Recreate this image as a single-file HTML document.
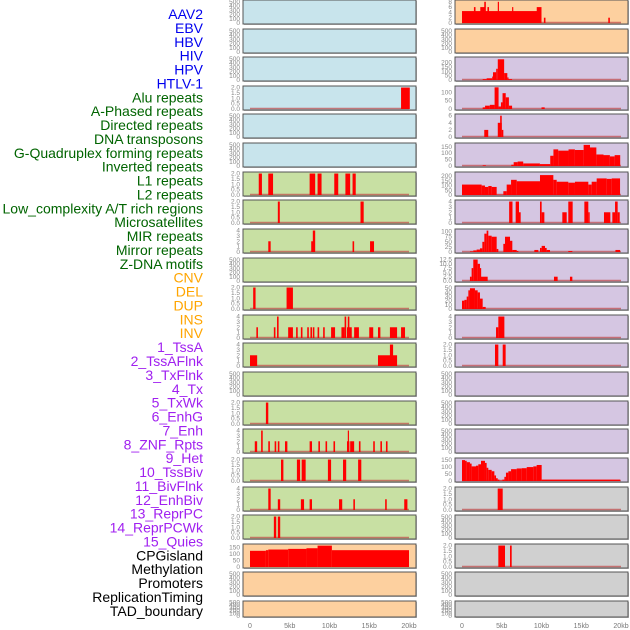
<!DOCTYPE html>
<html><head><meta charset="utf-8"><style>
body{margin:0;background:#fff;width:630px;height:630px;overflow:hidden}
svg{display:block;font-family:"Liberation Sans",sans-serif}
</style></head><body>
<svg id="chart" width="630" height="630"></svg>
<script>
const labels=["AAV2","EBV","HBV","HIV","HPV","HTLV-1","Alu repeats","A-Phased repeats","Directed repeats","DNA transposons","G-Quadruplex forming repeats","Inverted repeats","L1 repeats","L2 repeats","Low_complexity A/T rich regions","Microsatellites","MIR repeats","Mirror repeats","Z-DNA motifs","CNV","DEL","DUP","INS","INV","1_TssA","2_TssAFlnk","3_TxFlnk","4_Tx","5_TxWk","6_EnhG","7_Enh","8_ZNF_Rpts","9_Het","10_TssBiv","11_BivFlnk","12_EnhBiv","13_ReprPC","14_ReprPCWk","15_Quies","CPGisland","Methylation","Promoters","ReplicationTiming","TAD_boundary"];
const labelGroups=[6,13,5,15,5];
const groupColors=["#0000ee","#006400","#ffa500","#a020f0","#000000"];
const bgLeft=["b","b","b","b","b","b","g","g","g","g","g","g","g","g","g","g","g","g","g","o","o","o"];
const bgRight=["o","o","p","p","p","p","p","p","p","p","p","p","p","p","p","p","p","x","x","x","x","x"];
const bgColors={b:"#c8e4ec",g:"#c8e0a3",o:"#fdd09f",p:"#d5c6e2",x:"#d0d0d0"};
const xTicks=[0,5,10,15,20];
const xTickLabels=["0","5kb","10kb","15kb","20kb"];
const T2=[0,0.5,1,1.5,2],T2L=["0.0","0.5","1.0","1.5","2.0"];
const T4=[0,1,2,3,4];
const T500=[0,100,200,300,400,500];
const L3=[[19.0,20.1,2]];
const L6=[[1.1,1.5,2],[2.3,2.9,2],[7.5,8.2,2],[8.5,9.0,2],[10.6,11.1,2],[12.0,12.6,2],[12.9,13.3,2]];
const L7=[[3.5,3.75,2],[13.9,14.3,2]];
const L8=[[2.3,2.6,2],[7.7,8.1,2],[7.9,8.2,4],[12.9,13.1,2],[15.1,15.6,2]];
const L10=[[0.4,0.7,2],[4.6,5.4,2]];
const L11=[[0.8,1.0,2],[3.0,3.2,2],[3.4,3.6,4],[4.8,5.4,2],[5.8,6.0,2],[6.4,6.6,2],[7.2,7.4,2],[7.6,7.8,2],[7.9,8.1,2],[8.5,8.7,2],[9.2,9.4,2],[10.2,10.7,2],[11.5,11.9,2],[11.9,12.1,4],[12.2,12.8,2],[12.3,12.5,4],[13.1,13.7,2],[15.0,15.5,2],[16.1,16.4,2],[17.6,18.5,2],[19.0,19.5,2]];
const L12=[[0,0.9,2],[16.1,18.5,2],[17.6,18.0,4]];
const L14=[[2.0,2.3,2]];
const L15=[[0.6,0.9,2],[1.4,1.6,4],[2.3,2.5,2],[3.1,3.3,2],[3.5,3.7,2],[4.4,4.7,2],[7.5,7.8,2],[8.6,8.8,2],[9.5,9.7,2],[10.5,10.7,2],[12.2,12.5,2],[12.3,12.45,4],[12.6,13.1,2],[13.7,13.9,2],[15.5,15.7,2],[16.4,16.6,2],[17.1,17.3,2]];
const L16=[[3.9,4.2,2],[5.9,6.3,2],[6.5,7.0,2],[9.8,10.2,2],[11.7,12.1,2],[13.6,14.0,2]];
const L17=[[2.3,2.6,4],[3.5,3.8,2],[6.4,6.8,2],[7.5,7.8,2],[11.2,11.6,2],[13.0,13.2,2],[17.0,17.2,2],[19.4,19.8,2]];
const L18=[[3.0,3.3,2],[3.5,3.8,2]];
const L19=[[0,2,125],[2,2.3,130],[2.3,4.8,135],[4.8,7.1,140],[7.1,8.5,145],[8.5,10.3,165],[10.3,20,130]];
const R0=[[0,10,4.5],[1.5,1.7,6],[2.3,2.9,6],[2.8,3.0,8],[3.2,3.4,6],[4.5,4.6,8],[6.3,6.4,6],[9.4,10.0,6],[10.3,10.5,2],[18.4,18.6,2]];
const R2=[[2.6,3.1,10],[3.1,3.8,20],[3.8,3.9,40],[3.9,4.3,90],[4.3,4.5,130],[4.5,5.3,240],[5.3,5.7,80],[5.7,5.8,30],[5.8,6.3,10]];
const R3=[[2.6,2.9,10],[2.9,3.5,20],[3.5,4.1,25],[4.1,4.6,130],[4.6,4.9,15],[4.9,5.1,40],[5.1,5.5,95],[5.5,5.9,70],[5.9,6.3,20],[10.0,10.4,10]];
const R4=[[2.8,3.3,2],[4.5,5.0,4],[4.8,5.0,6],[5.0,5.2,2]];
const R5=[[2.6,3.0,5],[6.2,6.5,10],[6.5,7.0,30],[7.0,7.7,35],[7.7,9.8,20],[9.8,11.1,15],[11.1,11.5,80],[11.5,12.1,130],[12.1,13.4,120],[13.4,14.2,130],[14.2,15.3,125],[15.3,16.1,165],[16.1,16.9,145],[16.9,17.8,90],[17.8,18.6,85],[18.6,19.2,75],[19.2,19.9,85]];
const R6=[[0,2.47,110],[2.47,2.89,100],[2.89,3.31,85],[3.31,3.73,95],[3.73,4.36,85],[4.36,5.2,3],[5.2,5.62,40],[5.62,6.17,110],[6.17,6.88,160],[6.88,9.81,145],[9.81,11.49,210],[11.49,11.91,160],[11.91,13.37,140],[13.37,14.21,130],[14.21,15.89,140],[15.89,16.31,110],[16.31,16.94,140],[16.94,18.2,175],[18.2,18.83,170],[18.83,19.88,175]];
const R7=[[5.93,6.35,4],[6.75,7.17,4],[7.17,7.38,2],[9.81,10.02,4],[10.02,10.36,2],[12.62,13.17,2],[13.37,13.92,4],[15.39,15.89,4],[15.89,16.06,2],[17.86,18.66,2],[18.91,19.25,2],[19.25,19.58,4],[19.58,19.84,2]];
const R8=[[1.0,1.42,3],[1.42,1.84,8],[1.84,2.26,12],[2.26,2.56,18],[2.56,2.81,50],[2.81,3.1,90],[3.1,3.31,105],[3.31,3.73,80],[3.73,4.36,75],[4.36,4.57,15],[5.2,5.41,40],[5.41,6.04,75],[6.04,6.33,55],[6.33,6.88,10],[6.88,7.09,5],[9.1,9.6,10],[9.81,10.02,20],[10.02,10.44,30],[10.44,10.65,20],[10.65,11.07,10],[13.37,13.88,5],[19.3,19.88,10]];
const R9=[[1.0,1.21,2.5],[1.21,1.42,7.5],[1.42,1.97,12.5],[1.97,2.26,10],[2.26,2.39,7.5],[2.39,3.23,2.5],[11.57,12.03,2.5],[13.58,13.88,2.5]];
const R10=[[0,0.3,20],[0.3,0.59,22],[0.59,0.8,30],[0.8,1.0,45],[1.0,1.63,50],[1.63,1.97,45],[1.97,2.26,40],[2.26,2.6,25],[2.6,2.98,5]];
const R11=[[4.28,4.57,2],[4.57,5.33,4]];
const R12=[[4.15,4.57,2],[5.12,5.49,2]];
const R16=[[0,0.38,150],[0.38,0.59,145],[0.59,1.0,135],[1.0,1.21,125],[1.21,1.76,105],[1.76,2.05,110],[2.05,2.39,120],[2.39,2.89,145],[2.89,3.1,130],[3.1,3.31,95],[3.31,3.73,80],[3.73,4.07,70],[4.07,4.28,40],[4.28,4.49,20],[4.49,4.7,10],[4.7,5.07,3],[5.07,5.33,10],[5.33,5.53,30],[5.53,5.83,60],[5.83,6.17,70],[6.17,6.88,85],[6.88,7.51,90],[7.51,8.14,92],[8.14,8.97,100],[8.97,9.39,105],[9.39,10.02,115],[10.02,19.88,10]];
const R17=[[4.49,5.12,2]];
const R19=[[4.57,5.41,2],[6.04,6.25,2]];
const panels=[
{c:0,r:3,ymax:2.05,t:T2,tl:T2L,s:L3},{c:0,r:6,ymax:2.05,t:T2,tl:T2L,s:L6},{c:0,r:7,ymax:2.05,t:T2,tl:T2L,s:L7},
{c:0,r:8,ymax:4.1,t:T4,s:L8},{c:0,r:10,ymax:2.05,t:T2,tl:T2L,s:L10},{c:0,r:11,ymax:4.1,t:T4,s:L11},
{c:0,r:12,ymax:4.1,t:T4,s:L12},{c:0,r:14,ymax:2.05,t:T2,tl:T2L,s:L14},{c:0,r:15,ymax:4.1,t:T4,s:L15},
{c:0,r:16,ymax:2.05,t:T2,tl:T2L,s:L16},{c:0,r:17,ymax:4.1,t:T4,s:L17},{c:0,r:18,ymax:2.05,t:T2,tl:T2L,s:L18},
{c:0,r:19,ymax:170,t:[0,50,100,150],s:L19,nobase:true},
{c:1,r:0,ymax:8.3,t:[0,2,4,6,8],s:R0},{c:1,r:2,ymax:255,t:[0,50,100,150,200],s:R2},{c:1,r:3,ymax:132,t:[0,50,100],s:R3},
{c:1,r:4,ymax:6.2,t:[0,2,4,6],s:R4},{c:1,r:5,ymax:172,t:[0,50,100,150],s:R5},{c:1,r:6,ymax:232,t:[0,50,100,150,200],s:R6},
{c:1,r:7,ymax:4.1,t:T4,s:R7},{c:1,r:8,ymax:108,t:[0,25,50,75,100],s:R8},
{c:1,r:9,ymax:12.8,t:[0,2.5,5,7.5,10,12.5],tl:["0.0","2.5","5.0","7.5","10.0","12.5"],s:R9},
{c:1,r:10,ymax:53,t:[0,10,20,30,40,50],s:R10},{c:1,r:11,ymax:4.1,t:T4,s:R11},{c:1,r:12,ymax:2.05,t:T2,tl:T2L,s:R12},
{c:1,r:16,ymax:158,t:[0,50,100,150],s:R16},{c:1,r:17,ymax:2.05,t:T2,tl:T2L,s:R17},{c:1,r:19,ymax:2.05,t:T2,tl:T2L,s:R19}
];
const NS="http://www.w3.org/2000/svg";
const svg=document.getElementById('chart');
function mk(tag,attrs,parent){const e=document.createElementNS(NS,tag);for(const k in attrs)e.setAttribute(k,attrs[k]);(parent||svg).appendChild(e);return e;}
const colX=[{px:243,x0:250,x1:409},{px:455,x0:462,x1:621}];
const PW=173;
function rowTop(r){return Math.round(r*28.62);}
function rowH(r){return r===21?16:24;}
function xScale(c,kb){const C=colX[c];return C.x0+(C.x1-C.x0)*kb/20;}
function yScale(r,v,ymax){const b=rowTop(r)+rowH(r)-1;return b-(rowH(r)-2)*v/ymax;}
let li=0;
labelGroups.forEach((n,g)=>{for(let k=0;k<n;k++){
  const t=mk('text',{x:203,y:19+li*13.88,'text-anchor':'end','font-size':'14',fill:groupColors[g]});
  t.textContent=labels[li];
  
  
  li++;}});
const lookup={};panels.forEach(p=>lookup[p.c+'_'+p.r]=p);
for(let c=0;c<2;c++)for(let r=0;r<22;r++){
  const g=mk('g',{});
  
  
  const top=rowTop(r),h=rowH(r),px=colX[c].px;
  const bg=(c===0?bgLeft:bgRight)[r];
  mk('rect',{x:px+1,y:top+1,width:PW,height:h,fill:'#bbb'},g);
  mk('rect',{x:px,y:top,width:PW,height:h,fill:bgColors[bg],stroke:'#555','stroke-width':1},g);
  const p=lookup[c+'_'+r];
  const ymax=p?p.ymax:520,ticks=p?p.t:T500;
  ticks.forEach((tv,i)=>{
    const t=mk('text',{x:px-3,y:yScale(r,tv,ymax)+2,'text-anchor':'end','font-size':'6.5',fill:'#888'},g);
    t.textContent=p&&p.tl?p.tl[i]:String(tv);
    
    
  });
  if(p){
    if(!p.nobase){const bl=mk('line',{x1:xScale(c,0),x2:xScale(c,20),y1:yScale(r,0,ymax)-0.5,y2:yScale(r,0,ymax)-0.5,stroke:'#c04a4a','stroke-width':1.5,opacity:0.7},g);
      
      }
    p.s.forEach(s=>{
      const x=xScale(c,s[0]),w=Math.max(1.2,xScale(c,s[1])-x),y=yScale(r,s[2],ymax);
      const b=mk('rect',{x:x,y:y,width:w,height:yScale(r,0,ymax)-y,fill:'#ff0000'},g);
      
      
    });
  }
}
for(let c=0;c<2;c++)xTicks.forEach((v,i)=>{
  const t=mk('text',{x:xScale(c,v),y:628,'text-anchor':'middle','font-size':'7',fill:'#777'});
  t.textContent=xTickLabels[i];
  
  
});
</script>
</body></html>
